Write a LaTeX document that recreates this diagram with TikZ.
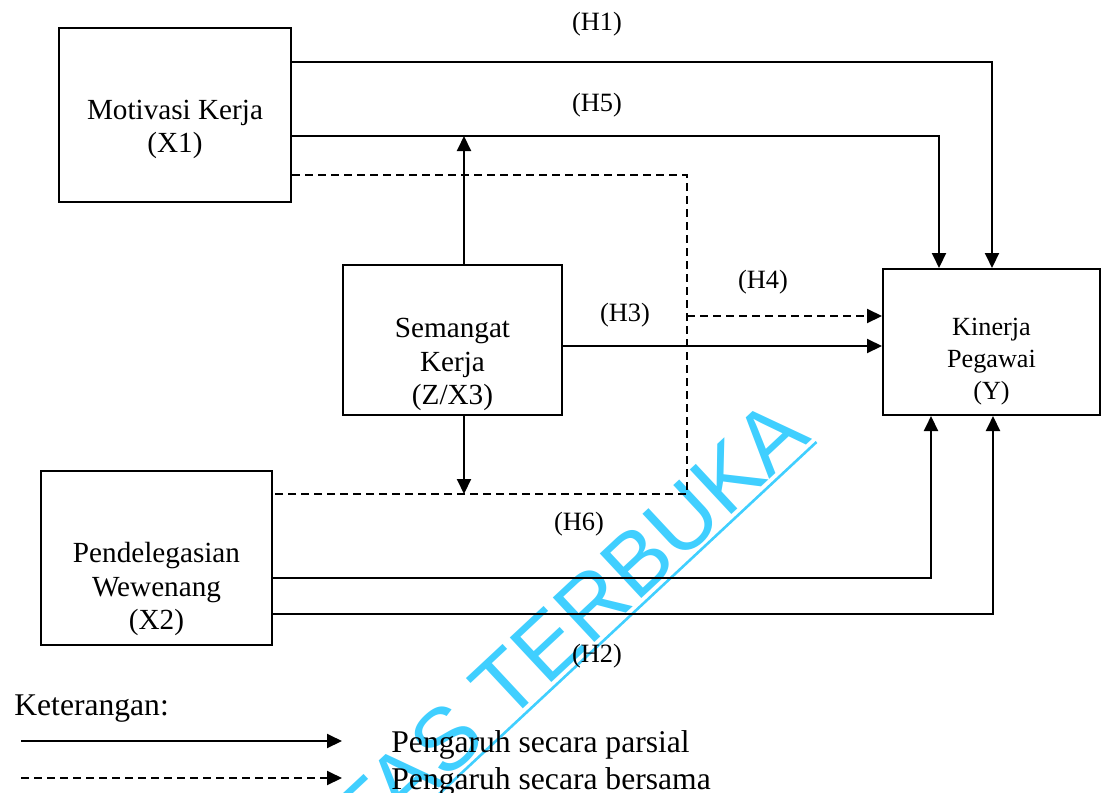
\documentclass[tikz,border=0pt]{standalone}
\usepackage{fontspec}
\setmainfont{Liberation Serif}
\newfontfamily\wmfont{Liberation Sans}
\usetikzlibrary{arrows.meta,positioning}
\definecolor{Mark}{HTML}{40CFFF}

\begin{document}
\begin{tikzpicture}[x=0.5pt, y=-0.5pt, >={Triangle[length=7.5pt,width=7pt]},
  box/.style={draw, line width=1pt, inner sep=0pt},
  boxtxt/.style={align=center, inner sep=0pt, font=\fontsize{14.6}{16.75}\selectfont},
  hyp/.style={inner sep=0pt, font=\fontsize{13.2}{15}\selectfont},
  legtxt/.style={inner sep=0pt, anchor=west, font=\fontsize{15.8}{18}\selectfont},
  arr/.style={->, line width=1pt},
  dline/.style={line width=1pt, dash pattern=on 4pt off 2.5pt},
  darr/.style={dline, ->} ]

\useasboundingbox (0,0) rectangle (1101,792);

% watermark
\begin{scope}
  \clip (0,0) rectangle (1101,792);
  \node[text=Mark, inner sep=0pt, rotate=43, anchor=base east, font=\wmfont\fontsize{44.3}{50}\selectfont] (wm) at (813,439) {UNIVERSITAS TERBUKA};
  \draw[Mark, line width=1.3pt] ([shift={(3.5,3)}]wm.base east) -- ([shift={(3.5,3)}]wm.base west);
\end{scope}

% variables
\node[box, minimum width=116pt, minimum height=87pt, label={[boxtxt, yshift=-7.25pt]center:{Motivasi Kerja\\(X1)}}] (x1) at (175,115) {};
\node[box, minimum width=109.5pt, minimum height=75pt, label={[boxtxt, yshift=-12.25pt]center:{Semangat\\Kerja\\(Z/X3)}}] (z) at (452.5,340) {};
\node[box, minimum width=115.5pt, minimum height=87pt, label={[boxtxt, yshift=-15.5pt]center:{Pendelegasian\\Wewenang\\(X2)}}] (x2) at (156.5,558) {};
\node[box, minimum width=108.5pt, minimum height=73pt, label={[boxtxt, font=\fontsize{13.1}{16}\selectfont, yshift=-10pt]center:{Kinerja\\Pegawai\\(Y)}}] (ky) at (991.5,342) {};

% hypotheses
\node[hyp] (h1) at (597,24) {(H1)};
\node[hyp] (h5) at (597,105) {(H5)};
\node[hyp] (h4) at (763,282) {(H4)};
\node[hyp] (h3) at (625,315) {(H3)};
\node[hyp] (h6) at (579,524) {(H6)};
\node[hyp] (h2) at (597,656) {(H2)};

\coordinate (jt) at (687,175);
\coordinate (jm) at (687,316);
\coordinate (jb) at (687,494);
\coordinate (zt) at (464,136);

\draw[arr] (x1.east |- 0,62) -| (ky.north -| 992,0);
\draw[arr] (x1.east |- 0,136) -| (ky.north -| 939,0);
\draw[dline] (x1.east |- jt) -- (jt) -- (jb) -- (x2.east |- jb);
\draw[darr] (jm) -- (ky.west |- jm);
\draw[arr] (z.north -| zt) -- (zt);
\draw[arr] (z.south -| zt) -- (zt |- jb);
\draw[arr] (z.east |- 0,346) -- (ky.west |- 0,346);
\draw[arr] (x2.east |- 0,578) -| (ky.south -| 931,0);
\draw[arr] (x2.east |- 0,614) -| (ky.south -| 993,0);

% legend
\node[legtxt] (ket) at (14,709) {Keterangan:};
\node[legtxt] (parsial) at (391,745) {Pengaruh secara parsial};
\node[legtxt] (bersama) at (391,782) {Pengaruh secara bersama};
\coordinate (p0) at (21,741);
\coordinate (b0) at (21,778);
\draw[arr] (p0) -- (p0 -| 342,0);
\draw[darr] (b0) -- (b0 -| 342,0);

\end{tikzpicture}
\end{document}
